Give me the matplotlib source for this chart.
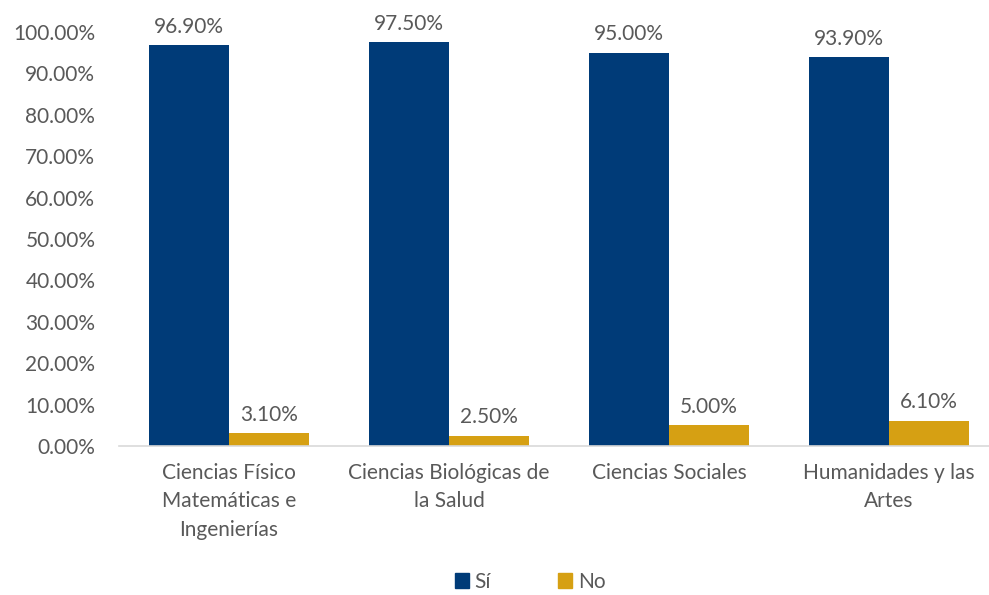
import matplotlib
matplotlib.use("Agg")
import matplotlib.pyplot as plt
import numpy as np
from matplotlib.patches import Patch

categories = ["Ciencias Físico\nMatemáticas e\nIngenierías",
              "Ciencias Biológicas de\nla Salud",
              "Ciencias Sociales",
              "Humanidades y las\nArtes"]
si_values = [96.9, 97.5, 95.0, 93.9]
no_values = [3.1, 2.5, 5.0, 6.1]
series_names = ["Sí", "No"]
yticks = [0, 10, 20, 30, 40, 50, 60, 70, 80, 90, 100]

blue = "#003B78"
gold = "#D6A013"
txt = "#595959"

plt.rcParams['font.family'] = ['Lato', 'DejaVu Sans']
fs = 15

fig = plt.figure(figsize=(9.89, 5.95), dpi=100)
ax = fig.add_axes([0.1203, 0.2504, 0.8797, 0.6958])

x = np.arange(len(categories))
w = 0.3636
b1 = ax.bar(x - w/2, si_values, w, color=blue, label=series_names[0])
b2 = ax.bar(x + w/2, no_values, w, color=gold, label=series_names[1])

for bars, vals in ((b1, si_values), (b2, no_values)):
    for r, v in zip(bars, vals):
        ax.annotate(f"{v:.2f}%", (r.get_x() + r.get_width()/2, v),
                    xytext=(0, 6), textcoords="offset points",
                    ha="center", va="bottom", fontsize=fs, color=txt)

ax.set_xlim(-0.5, 3.4545)
ax.set_ylim(0, 100)
ax.set_yticks(yticks)
ax.set_yticklabels([f"{t:.2f}%" for t in yticks], fontsize=fs, color=txt)
ax.set_xticks(x)
ax.set_xticklabels(categories, fontsize=fs, color=txt, linespacing=1.55)
ax.tick_params(axis='both', length=0)
ax.tick_params(axis='y', pad=17)
ax.tick_params(axis='x', pad=12)
for s in ("top", "right", "left"):
    ax.spines[s].set_visible(False)
ax.spines["bottom"].set_color("#D9D9D9")
ax.spines["bottom"].set_linewidth(1.2)

handles = [Patch(color=blue), Patch(color=gold)]
fig.legend(handles, series_names, loc="center", bbox_to_anchor=(0.536, 0.022),
           ncol=2, frameon=False, fontsize=fs, handlelength=0.7, handleheight=0.7,
           handletextpad=0.25, columnspacing=3.2, labelcolor=txt)

fig.savefig("out.png", dpi=100)
